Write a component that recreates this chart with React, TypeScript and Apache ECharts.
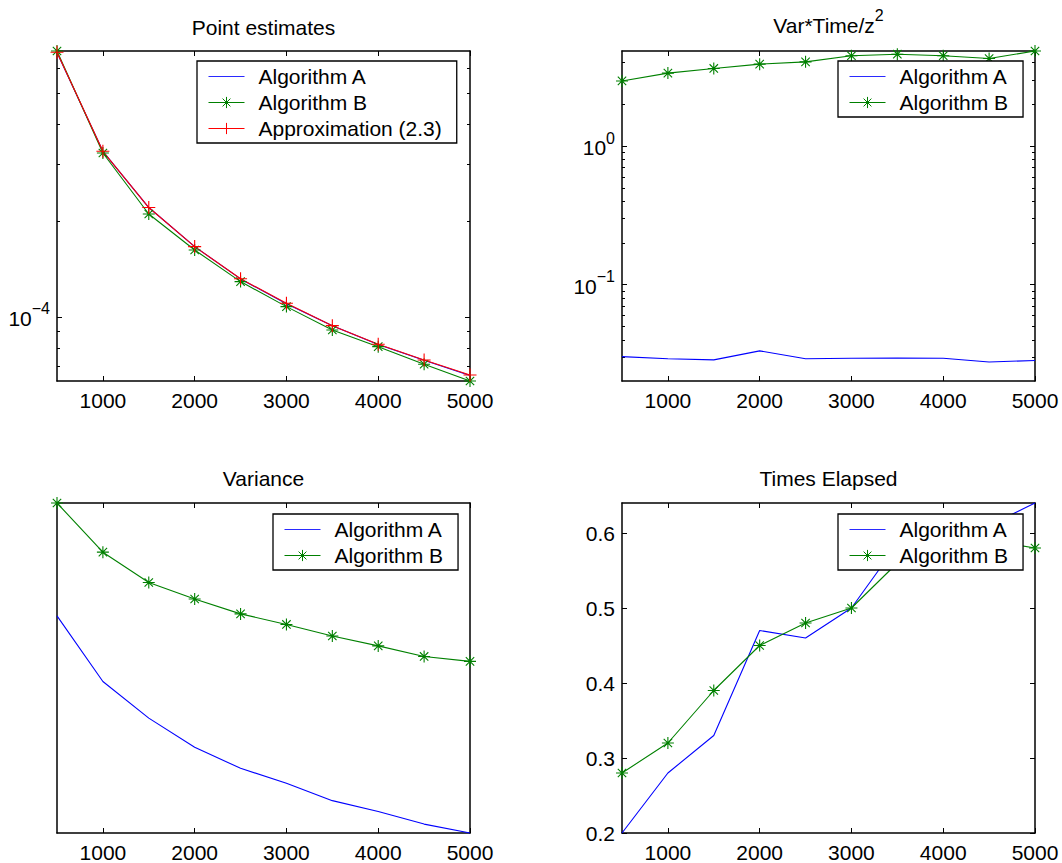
import React, { useEffect, useRef } from 'react';
import * as echarts from 'echarts';

const FONT = "'Liberation Sans', Arial, Helvetica, sans-serif";
const BLUE = '#0000ff';
const GREEN = '#008000';
const RED = '#ff0000';
const BLACK = '#000000';
const ASTERISK = 'path://M0 5L10 5M5 0L5 10M1.5 1.5L8.5 8.5M8.5 1.5L1.5 8.5';
const PLUS = 'path://M0 5L10 5M5 0L5 10';
const LEGEND_BAR = 'path://M0 0H36V1.1H0Z';

// ---- shared x axis ----
const xValues = [500, 1000, 1500, 2000, 2500, 3000, 3500, 4000, 4500, 5000];
const xRange = [500, 5000];
const xTickValues = [1000, 2000, 3000, 4000, 5000];
const xTickLabels = ['1000', '2000', '3000', '4000', '5000'];

// ---- Point estimates (log y) ----
const pointA = [6.72e-4, 3.3e-4, 2.2e-4, 1.66e-4, 1.315e-4, 1.1e-4, 9.38e-5, 8.2e-5, 7.32e-5, 6.55e-5];
const pointB = [6.8e-4, 3.26e-4, 2.1e-4, 1.62e-4, 1.29e-4, 1.077e-4, 9.1e-5, 8.07e-5, 7.11e-5, 6.3e-5];
const pointApprox = [6.74e-4, 3.3e-4, 2.2e-4, 1.66e-4, 1.316e-4, 1.104e-4, 9.39e-5, 8.21e-5, 7.33e-5, 6.58e-5];
const pointRange = [6.3e-5, 6.8e-4];
const pointMajorTicks = [1e-4];
const pointMajorExponents = ['\u22124'];
const pointMinorTicks = [7e-5, 8e-5, 9e-5, 2e-4, 3e-4, 4e-4, 5e-4, 6e-4];

// ---- Var*Time/z^2 (log y) ----
const vtA = [0.0303, 0.0292, 0.0287, 0.0333, 0.0292, 0.0295, 0.0296, 0.0295, 0.0277, 0.0284];
const vtB = [2.95, 3.36, 3.63, 3.9, 4.05, 4.48, 4.6, 4.48, 4.28, 4.85];
const vtRange = [0.0202, 4.85];
const vtMajorTicks = [0.1, 1];
const vtMajorExponents = ['\u22121', '0'];
const vtMinorTicks = [0.03, 0.04, 0.05, 0.06, 0.07, 0.08, 0.09, 0.2, 0.3, 0.4, 0.5, 0.6, 0.7, 0.8, 0.9, 2, 3, 4];

// ---- Variance (linear y, unlabeled) ----
const varA = [0.658, 0.459, 0.348, 0.26, 0.196, 0.151, 0.098, 0.065, 0.027, 0.0];
const varB = [1.0, 0.851, 0.759, 0.709, 0.664, 0.632, 0.597, 0.567, 0.535, 0.52];
const varRange = [0, 1];

// ---- Times Elapsed (linear y) ----
const timeA = [0.2, 0.28, 0.33, 0.47, 0.46, 0.5, 0.585, 0.6, 0.61, 0.64];
const timeB = [0.28, 0.32, 0.39, 0.45, 0.48, 0.5, 0.56, 0.58, 0.59, 0.58];
const timeRange = [0.2, 0.64];
const timeTicks = [0.2, 0.3, 0.4, 0.5, 0.6];
const timeTickLabels = ['0.2', '0.3', '0.4', '0.5', '0.6'];

const nearestIndex = (arr: number[], v: number, log: boolean) => {
  let best = 0;
  let bd = Infinity;
  arr.forEach((a, i) => {
    const d = log ? Math.abs(Math.log10(a) - Math.log10(v)) : Math.abs(a - v);
    if (d < bd) { bd = d; best = i; }
  });
  return best;
};

const supRich = {
  b: { fontSize: 21, fontFamily: FONT, color: BLACK, verticalAlign: 'bottom', padding: [0, 0, 4, 0] },
  s: { fontSize: 16, fontFamily: FONT, color: BLACK, verticalAlign: 'top', padding: [0, 0, 16, 0] },
};

function buildOption() {
  const grids = [
    { left: 57, top: 51, width: 413, height: 330 },
    { left: 622, top: 51, width: 413, height: 330 },
    { left: 57, top: 503, width: 413, height: 330 },
    { left: 622, top: 503, width: 413, height: 330 },
  ].map((g) => ({ ...g, show: false, containLabel: false, outerBoundsMode: 'none' }));

  const xAxis: any[] = [];
  const yAxis: any[] = [];
  const series: any[] = [];

  const mkX = (gi: number, position: string, labels: boolean) => ({
    gridIndex: gi,
    type: 'value',
    position,
    min: xRange[0],
    max: xRange[1],
    axisLine: { show: true, onZero: false, lineStyle: { color: BLACK, width: 1.5 } },
    axisTick: { show: true, inside: true, length: 5, customValues: xTickValues, lineStyle: { color: BLACK, width: 1 } },
    axisLabel: labels
      ? {
          show: true,
          customValues: xTickValues,
          formatter: (v: number) => xTickLabels[nearestIndex(xTickValues, v, false)],
          fontSize: 21,
          fontFamily: FONT,
          color: BLACK,
          margin: 9,
        }
      : { show: false },
    splitLine: { show: false },
  });

  const mkY = (
    gi: number,
    position: string,
    type: string,
    range: number[],
    ticks: number[] | null,
    tickLen: number,
    showLine: boolean,
    label: any
  ) => ({
    gridIndex: gi,
    type,
    position,
    min: range[0],
    max: range[1],
    axisLine: { show: showLine, onZero: false, lineStyle: { color: BLACK, width: 1.5 } },
    axisTick: ticks
      ? { show: true, inside: true, length: tickLen, customValues: ticks, lineStyle: { color: BLACK, width: 1 } }
      : { show: false },
    axisLabel: label ? label : { show: false },
    splitLine: { show: false },
  });

  const logLabel = (majors: number[], exps: string[]) => ({
    show: true,
    customValues: majors,
    formatter: (v: number) => `{b|10}{s|${exps[nearestIndex(majors, v, true)]}}`,
    rich: supRich,
    margin: 7,
  });

  const panel = (
    gi: number,
    type: string,
    range: number[],
    majors: number[] | null,
    minors: number[] | null,
    label: any
  ) => {
    const xi = xAxis.length;
    xAxis.push(mkX(gi, 'bottom', true));
    xAxis.push(mkX(gi, 'top', false));
    const yi = yAxis.length;
    yAxis.push(mkY(gi, 'left', type, range, majors, 5, true, label));
    yAxis.push(mkY(gi, 'right', type, range, majors, 5, true, null));
    if (minors) {
      yAxis.push(mkY(gi, 'left', type, range, minors, 3, false, null));
      yAxis.push(mkY(gi, 'right', type, range, minors, 3, false, null));
    }
    return { xi, yi };
  };

  const line = (name: string, ax: { xi: number; yi: number }, ys: number[], color: string, symbol: string | null, size: number) => ({
    name,
    type: 'line',
    xAxisIndex: ax.xi,
    yAxisIndex: ax.yi,
    data: xValues.map((x, i) => [x, ys[i]]),
    color,
    lineStyle: { color, width: 1.1 },
    symbol: symbol || 'none',
    showSymbol: !!symbol,
    symbolSize: size,
    itemStyle: { color, borderColor: color, borderWidth: 1.1 },
    clip: false,
    silent: true,
    z: 3,
  });

  const p1 = panel(0, 'log', pointRange, pointMajorTicks, pointMinorTicks, logLabel(pointMajorTicks, pointMajorExponents));
  series.push(line('Algorithm A', p1, pointA, BLUE, null, 0));
  series.push(line('Algorithm B', p1, pointB, GREEN, ASTERISK, 12));
  series.push(line('Approximation (2.3)', p1, pointApprox, RED, PLUS, 13));

  const p2 = panel(1, 'log', vtRange, vtMajorTicks, vtMinorTicks, logLabel(vtMajorTicks, vtMajorExponents));
  series.push(line('Algorithm A', p2, vtA, BLUE, null, 0));
  series.push(line('Algorithm B', p2, vtB, GREEN, ASTERISK, 12));

  const p3 = panel(2, 'value', varRange, null, null, null);
  series.push(line('Algorithm A', p3, varA, BLUE, null, 0));
  series.push(line('Algorithm B', p3, varB, GREEN, ASTERISK, 12));

  const p4 = panel(3, 'value', timeRange, timeTicks, null, {
    show: true,
    customValues: timeTicks,
    formatter: (v: number) => timeTickLabels[nearestIndex(timeTicks, v, false)],
    fontSize: 21,
    fontFamily: FONT,
    color: BLACK,
    margin: 7,
  });
  series.push(line('Algorithm A', p4, timeA, BLUE, null, 0));
  series.push(line('Algorithm B', p4, timeB, GREEN, ASTERISK, 12));

  const legendBase = {
    orient: 'vertical',
    itemWidth: 36,
    itemHeight: 14,
    itemGap: 5,
    padding: [5, 15, 4, 11],
    backgroundColor: '#ffffff',
    borderColor: BLACK,
    borderWidth: 1.3,
    borderRadius: 0,
    selectedMode: false,
    symbolKeepAspect: true,
    lineStyle: { width: 1 },
    itemStyle: { borderWidth: 1 },
    textStyle: { fontSize: 21, fontFamily: FONT, color: BLACK, lineHeight: 21, padding: [0, 0, 0, 9] },
    z: 10,
  };
  const aItem = { name: 'Algorithm A', icon: LEGEND_BAR, itemStyle: { color: '#2a2aff', borderWidth: 0, opacity: 1 } };
  const bItem = { name: 'Algorithm B', lineStyle: { color: GREEN, width: 1 } };
  const cItem = { name: 'Approximation (2.3)', lineStyle: { color: RED, width: 1 } };
  const legend = [
    { ...legendBase, left: 197, top: 61, data: [aItem, bItem, cItem] },
    { ...legendBase, left: 838, top: 61, data: [aItem, bItem] },
    { ...legendBase, left: 273, top: 514, data: [aItem, bItem] },
    { ...legendBase, left: 838, top: 514, data: [aItem, bItem] },
  ];

  const titleStyle = (text: string) => ({
    text,
    fontSize: 21,
    fontFamily: FONT,
    fill: BLACK,
    align: 'center',
    textAlign: 'center',
    verticalAlign: 'middle',
    textVerticalAlign: 'middle',
    rich: supRich,
  });
  const graphic = [
    { type: 'text', x: 263.5, y: 27, style: titleStyle('Point estimates') },
    { type: 'text', x: 828.5, y: 23.5, style: titleStyle('{b|Var*Time/z}{s|2}') },
    { type: 'text', x: 263.5, y: 478, style: titleStyle('Variance') },
    { type: 'text', x: 828.5, y: 478, style: titleStyle('Times Elapsed') },
  ];

  return {
    animation: false,
    backgroundColor: '#ffffff',
    textStyle: { fontFamily: FONT },
    grid: grids,
    xAxis,
    yAxis,
    series,
    legend,
    graphic,
  };
}

export default function App() {
  const ref = useRef<HTMLDivElement>(null);
  useEffect(() => {
    if (!ref.current) return;
    const chart = echarts.init(ref.current, undefined, { renderer: 'svg' });
    chart.setOption(buildOption() as any);
    return () => chart.dispose();
  }, []);
  return <div ref={ref} style={{ position: 'absolute', left: 0, top: 0, width: 1062, height: 863 }} />;
}
